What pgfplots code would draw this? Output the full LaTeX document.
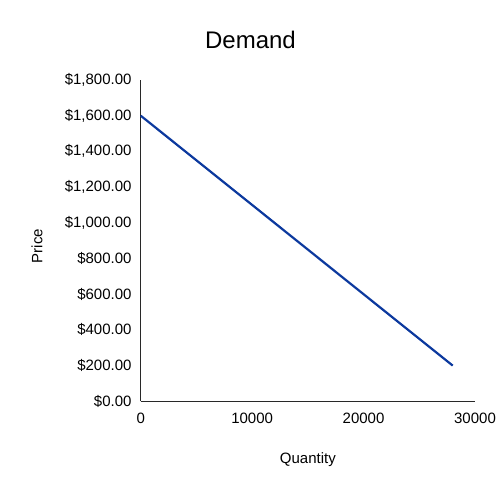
\documentclass[border=0pt]{standalone}
\usepackage{fontspec}
\setmainfont{Liberation Sans}
\usepackage{pgfplots}
\pgfplotsset{compat=1.18}
\definecolor{lineblue}{RGB}{12,57,158}
\definecolor{axisgray}{RGB}{40,40,40}
\begin{document}
\begin{tikzpicture}[x=1bp,y=1bp]
\useasboundingbox (0,0) rectangle (500,491);
\begin{axis}[
  at={(140.7bp,89.7bp)}, anchor=south west,
  scale only axis, width=334.3bp, height=321.3bp,
  xmin=0, xmax=30000, ymin=0, ymax=1800,
  axis lines*=left,
  axis line style={axisgray, line width=0.8bp, -},
  major tick length=0pt,
  xtick={0,10000,20000,30000},
  xticklabels={0,10000,20000,30000},
  ytick={0,200,400,600,800,1000,1200,1400,1600,1800},
  yticklabels={{\$0.00},{\$200.00},{\$400.00},{\$600.00},{\$800.00},{\$1,000.00},{\$1,200.00},{\$1,400.00},{\$1,600.00},{\$1,800.00}},
  scaled x ticks=false,
  ticklabel style={font=\fontsize{15bp}{17bp}\selectfont, text=black},
  xticklabel style={anchor=base, yshift=-22.3bp, inner sep=0pt},
  yticklabel style={anchor=east, xshift=-9bp, inner sep=0pt},
  title={Demand},
  title style={font=\fontsize{24bp}{27bp}\selectfont, at={(0.3284,1.0987)}, anchor=base, inner sep=0pt, yshift=-6pt},
  xlabel={Quantity},
  xlabel style={font=\fontsize{15bp}{17bp}\selectfont, at={(0.5,-0.193)}, anchor=base, inner sep=0pt},
  ylabel={Price},
  ylabel style={font=\fontsize{15bp}{17bp}\selectfont, at={(-0.310,0.483)}, anchor=center, inner sep=0pt, rotate=0},
  clip=false,
]
\addplot[lineblue, line width=2.2bp, mark=none] coordinates {(0,1600) (28000,200)};
\end{axis}
\end{tikzpicture}
\end{document}
